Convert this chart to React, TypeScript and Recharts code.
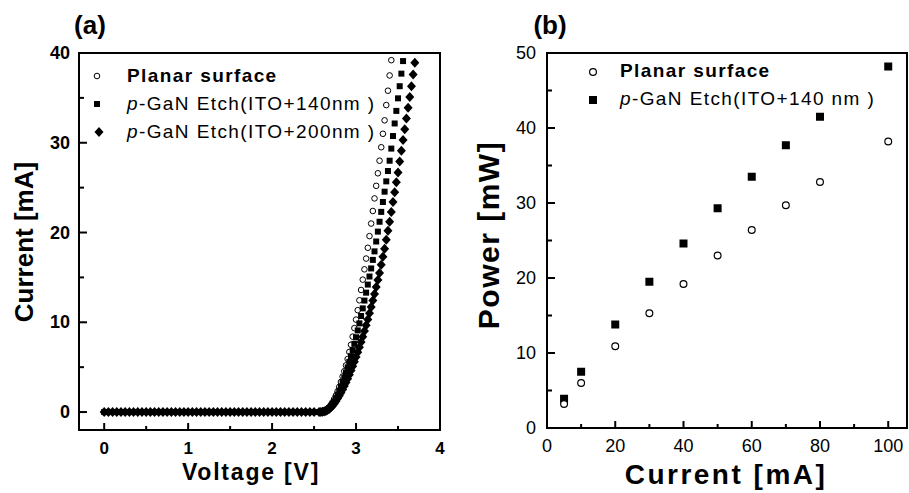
import React from 'react';
import { ScatterChart, Scatter, XAxis, YAxis, ReferenceArea, Legend } from 'recharts';

const FONT = '"Liberation Sans", Arial, Helvetica, sans-serif';

// (a) I-V sweep: flat part below turn-on, then the rising part
const flatVoltage = [
  0, 0.05, 0.1, 0.15, 0.2, 0.25, 0.3, 0.35, 0.4, 0.45, 0.5, 0.55, 0.6, 0.65, 0.7, 0.75, 0.8, 0.85, 0.9, 0.95,
  1, 1.05, 1.1, 1.15, 1.2, 1.25, 1.3, 1.35, 1.4, 1.45, 1.5, 1.55, 1.6, 1.65, 1.7, 1.75, 1.8, 1.85, 1.9, 1.95,
  2, 2.05, 2.1, 2.15, 2.2, 2.25, 2.3, 2.35, 2.4, 2.45, 2.5,
];
const offCurrent = 0;
const rampVoltage = [
  2.56, 2.58, 2.6, 2.62, 2.64, 2.66, 2.68, 2.7, 2.72, 2.74, 2.76, 2.78, 2.8, 2.82, 2.84, 2.86, 2.88, 2.9, 2.92, 2.94,
  2.96, 2.98, 3, 3.02, 3.04, 3.06, 3.08, 3.1, 3.12, 3.14, 3.16, 3.18, 3.2, 3.22, 3.24, 3.26, 3.28, 3.3, 3.32, 3.34,
  3.36, 3.38, 3.4, 3.42, 3.44, 3.46, 3.48, 3.5, 3.52, 3.54, 3.56, 3.58, 3.6, 3.62, 3.64, 3.66, 3.68, 3.7,
];
const planarCurrent = [
  0, 0.02, 0.06, 0.12, 0.22, 0.36, 0.55, 0.8, 1.1, 1.45, 1.85, 2.3, 2.8, 3.35, 3.95, 4.55, 5.2, 5.9, 6.7, 7.5,
  8.4, 9.35, 10.3, 11.35, 12.45, 13.6, 14.75, 15.9, 17.1, 18.3, 19.6, 21.0, 22.4, 23.8, 25.2, 26.6, 28.0, 29.5, 31.0, 32.5,
  34.2, 35.8, 37.5, 39.2,
];
const etch140Current = [
  0, 0.02, 0.05, 0.1, 0.18, 0.3, 0.45, 0.65, 0.9, 1.2, 1.55, 1.95, 2.38, 2.84, 3.33, 3.85, 4.4, 4.98, 5.59, 6.23,
  6.9, 7.6, 8.33, 9.09, 9.88, 10.7, 11.55, 12.42, 13.3, 14.2, 15.1, 16.0, 16.95, 17.9, 19.0, 20.1, 21.2, 22.3, 23.4, 24.55,
  25.7, 26.85, 28.0, 29.35, 30.75, 32.15, 33.55, 34.95, 36.3, 37.7, 39.1,
];
const etch200Current = [
  0, 0.01, 0.03, 0.07, 0.13, 0.22, 0.34, 0.5, 0.7, 0.93, 1.2, 1.5, 1.82, 2.16, 2.52, 2.9, 3.3, 3.72, 4.16, 4.62,
  5.1, 5.6, 6.12, 6.66, 7.22, 7.8, 8.4, 9.02, 9.66, 10.32, 11.0, 11.7, 12.42, 13.16, 13.92, 14.7, 15.5, 16.4, 17.3, 18.2,
  19.2, 20.2, 21.2, 22.3, 23.4, 24.5, 25.6, 26.7, 27.9, 29.1, 30.3, 31.5, 32.7, 33.9, 35.1, 36.3, 37.6, 38.9,
];

const voltageTicks = [0, 0.5, 1, 1.5, 2, 2.5, 3, 3.5, 4];
const voltageLabels = [0, 1, 2, 3, 4];
const currentTicksA = [0, 5, 10, 15, 20, 25, 30, 35, 40];
const currentLabelsA = [0, 10, 20, 30, 40];

// (b) L-I
const driveCurrent = [5, 10, 20, 30, 40, 50, 60, 70, 80, 100];
const planarPower = [3.2, 6.0, 10.9, 15.3, 19.2, 23.0, 26.4, 29.7, 32.8, 38.2];
const etchPower = [3.9, 7.5, 13.8, 19.5, 24.6, 29.3, 33.5, 37.7, 41.5, 48.2];

const driveTicks = [0, 10, 20, 30, 40, 50, 60, 70, 80, 90, 100];
const driveLabels = [0, 20, 40, 60, 80, 100];
const powerTicks = [0, 5, 10, 15, 20, 25, 30, 35, 40, 45, 50];
const powerLabels = [0, 10, 20, 30, 40, 50];

const ivSeries = (currents: number[]) => [
  ...flatVoltage.map((v) => ({ x: v, y: offCurrent })),
  ...currents.map((y, k) => ({ x: rampVoltage[k], y })),
];
const planarIV = ivSeries(planarCurrent);
const etch140IV = ivSeries(etch140Current);
const etch200IV = ivSeries(etch200Current);
const planarLI = driveCurrent.map((x, k) => ({ x, y: planarPower[k] }));
const etchLI = driveCurrent.map((x, k) => ({ x, y: etchPower[k] }));

// markers
const openCircle = (r: number, sw: number) => (p: any) => (
  <circle cx={p.cx} cy={p.cy} r={r} fill="#fff" stroke="#000" strokeWidth={sw} />
);
const filledSquare = (s: number) => (p: any) => (
  <rect x={p.cx - s / 2} y={p.cy - s / 2} width={s} height={s} fill="#000" />
);
const filledDiamond = (w: number, h: number) => (p: any) => (
  <polygon
    points={`${p.cx},${p.cy - h} ${p.cx + w},${p.cy} ${p.cx},${p.cy + h} ${p.cx - w},${p.cy}`}
    fill="#000"
  />
);

// inward ticks drawn with the labels
function xTick(labels: number[], dy: number, weight: string, size: number) {
  return (props: any) => {
    const { x, y, payload } = props;
    const major = labels.includes(payload.value);
    return (
      <g>
        <line x1={x} x2={x} y1={y} y2={y - (major ? 7 : 4)} stroke="#000" strokeWidth={2} />
        {major && (
          <text x={x} y={y + dy} textAnchor="middle" fontFamily={FONT} fontWeight={weight} fontSize={size} fill="#000">
            {payload.value}
          </text>
        )}
      </g>
    );
  };
}
function yTick(labels: number[], dx: number, weight: string, size: number) {
  return (props: any) => {
    const { x, y, payload } = props;
    const major = labels.includes(payload.value);
    return (
      <g>
        <line x1={x} x2={x + (major ? 8 : 5)} y1={y} y2={y} stroke="#000" strokeWidth={2} />
        {major && (
          <text x={x - dx} y={y + 6} textAnchor="end" fontFamily={FONT} fontWeight={weight} fontSize={size} fill="#000">
            {payload.value}
          </text>
        )}
      </g>
    );
  };
}

const legendText = { fontFamily: FONT, fontSize: 19, letterSpacing: 1.4, fill: '#000' };

function LegendA() {
  return (
    <svg width={360} height={95} style={{ overflow: 'visible', display: 'block' }}>
      {openCircle(2.8, 1)({ cx: 17, cy: 21 })}
      {filledSquare(6)({ cx: 17, cy: 49 })}
      {filledDiamond(4.5, 5)({ cx: 19, cy: 77 })}
      <text x={47} y={27} {...legendText} fontWeight="bold">Planar surface</text>
      <text x={47} y={55} {...legendText}>
        <tspan fontStyle="italic">p</tspan>-GaN Etch(ITO+140nm )
      </text>
      <text x={47} y={83} {...legendText}>
        <tspan fontStyle="italic">p</tspan>-GaN Etch(ITO+200nm )
      </text>
    </svg>
  );
}

function LegendB() {
  return (
    <svg width={300} height={70} style={{ overflow: 'visible', display: 'block' }}>
      {openCircle(3.4, 1.2)({ cx: 13, cy: 17 })}
      {filledSquare(8)({ cx: 13, cy: 45 })}
      <text x={40} y={22} {...legendText} fontWeight="bold">Planar surface</text>
      <text x={40} y={50} {...legendText}>
        <tspan fontStyle="italic">p</tspan>-GaN Etch(ITO+140 nm )
      </text>
    </svg>
  );
}

const titleStyle = { fontFamily: FONT, fontWeight: 'bold', fill: '#000' } as const;

export default function App() {
  return (
    <div style={{ position: 'absolute', left: 0, top: 0, width: 909, height: 493, background: '#fff' }}>
      <div style={{ position: 'absolute', left: 0, top: 0 }}>
        <ScatterChart width={460} height={493} margin={{ top: 53, right: 20, bottom: 62, left: 78 }}>
          <XAxis
            type="number"
            dataKey="x"
            domain={[-0.3, 4]}
            allowDataOverflow
            ticks={voltageTicks}
            interval={0}
            height={1}
            tickSize={0}
            tickMargin={0}
            tickLine={false}
            axisLine={{ stroke: '#000', strokeWidth: 2 }}
            tick={xTick(voltageLabels, 24, 'bold', 17)}
            label={{
              content: () => (
                <text x={251} y={480} textAnchor="middle" {...titleStyle} fontSize={23} letterSpacing={1.8}>
                  Voltage [V]
                </text>
              ),
            }}
          />
          <YAxis
            type="number"
            dataKey="y"
            domain={[-2, 40]}
            allowDataOverflow
            ticks={currentTicksA}
            interval={0}
            width={1}
            tickSize={0}
            tickMargin={0}
            tickLine={false}
            axisLine={{ stroke: '#000', strokeWidth: 2 }}
            tick={yTick(currentLabelsA, 9, 'bold', 18)}
            label={{
              content: () => (
                <text x={33} y={242} transform="rotate(-90 33 242)" textAnchor="middle" {...titleStyle} fontSize={26}>
                  Current [mA]
                </text>
              ),
            }}
          />
          <ReferenceArea x1={-0.3} x2={4} y1={-2} y2={40} fill="none" stroke="#000" strokeWidth={2} ifOverflow="visible" />
          <Scatter data={planarIV} shape={openCircle(2.8, 1)} isAnimationActive={false} />
          <Scatter data={etch140IV} shape={filledSquare(6)} isAnimationActive={false} />
          <Scatter data={etch200IV} shape={filledDiamond(4.5, 5)} isAnimationActive={false} />
          <Legend
            layout="vertical"
            align="center"
            verticalAlign="middle"
            content={() => <LegendA />}
            wrapperStyle={{ position: 'absolute', left: 80, top: 55, width: 360, height: 95 }}
          />
        </ScatterChart>
      </div>
      <div style={{ position: 'absolute', left: 460, top: 0 }}>
        <ScatterChart width={449} height={493} margin={{ top: 53, right: 2, bottom: 64, left: 86 }}>
          <XAxis
            type="number"
            dataKey="x"
            domain={[0, 105.5]}
            allowDataOverflow
            ticks={driveTicks}
            interval={0}
            height={1}
            tickSize={0}
            tickMargin={0}
            tickLine={false}
            axisLine={{ stroke: '#000', strokeWidth: 2 }}
            tick={xTick(driveLabels, 24, 'normal', 18)}
            label={{
              content: () => (
                <text x={266} y={484} textAnchor="middle" {...titleStyle} fontSize={28} letterSpacing={2.5}>
                  Current [mA]
                </text>
              ),
            }}
          />
          <YAxis
            type="number"
            dataKey="y"
            domain={[0, 50]}
            allowDataOverflow
            ticks={powerTicks}
            interval={0}
            width={1}
            tickSize={0}
            tickMargin={0}
            tickLine={false}
            axisLine={{ stroke: '#000', strokeWidth: 2 }}
            tick={yTick(powerLabels, 11, 'normal', 18)}
            label={{
              content: () => (
                <text x={39} y={235} transform="rotate(-90 39 235)" textAnchor="middle" {...titleStyle} fontSize={30} letterSpacing={1.5}>
                  Power [mW]
                </text>
              ),
            }}
          />
          <ReferenceArea x1={0} x2={105.5} y1={0} y2={50} fill="none" stroke="#000" strokeWidth={2} ifOverflow="visible" />
          <Scatter data={etchLI} shape={filledSquare(8)} isAnimationActive={false} />
          <Scatter data={planarLI} shape={openCircle(3.4, 1.2)} isAnimationActive={false} />
          <Legend
            layout="vertical"
            align="center"
            verticalAlign="middle"
            content={() => <LegendB />}
            wrapperStyle={{ position: 'absolute', left: 120, top: 55, width: 300, height: 70 }}
          />
        </ScatterChart>
      </div>
      <svg width={909} height={493} style={{ position: 'absolute', left: 0, top: 0, pointerEvents: 'none' }}>
        <text x={90} y={34} textAnchor="middle" {...titleStyle} fontSize={26}>(a)</text>
        <text x={550} y={34} textAnchor="middle" {...titleStyle} fontSize={26}>(b)</text>
      </svg>
    </div>
  );
}
